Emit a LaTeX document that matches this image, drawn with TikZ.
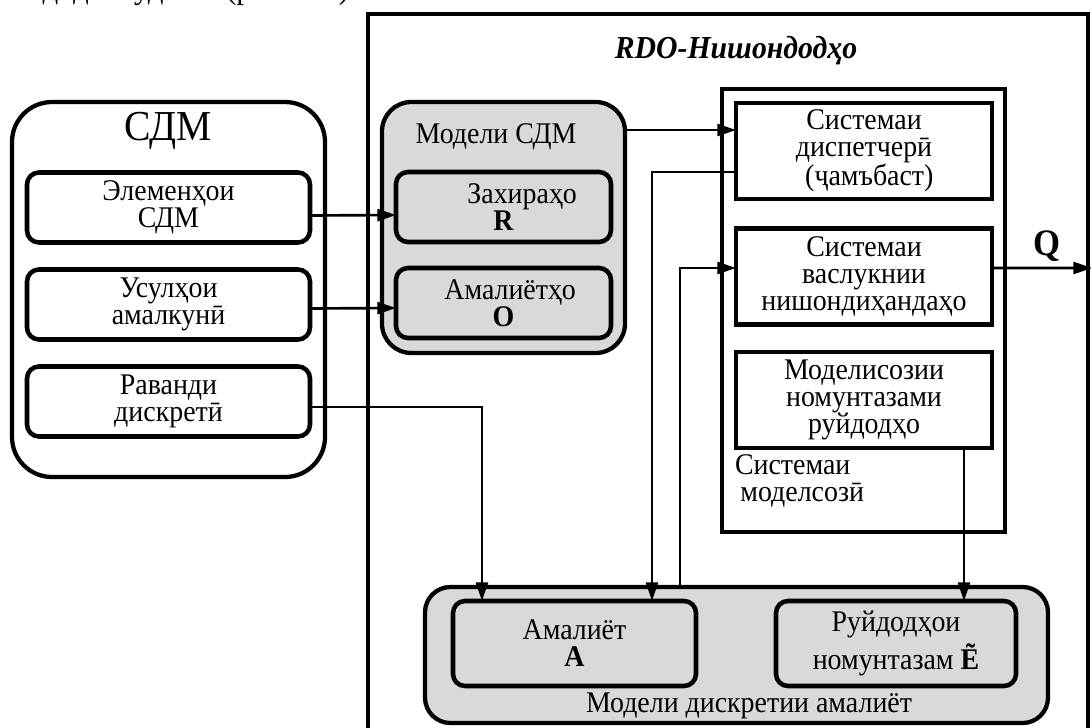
\documentclass[tikz,border=0pt]{standalone}
\usepackage{fontspec}
\setmainfont{Liberation Serif}[FakeStretch=0.93]
\usetikzlibrary{arrows.meta,calc}
\begin{document}
\begin{tikzpicture}[x=0.75pt,y=-0.75pt,
  every node/.style={inner sep=0pt, outer sep=0pt},
  txt/.style={font=\fontsize{22.5}{20.3}\selectfont, align=center},
  rbox/.style={draw, line width=3.4pt, rounded corners=9pt, txt},
  sbox/.style={draw, line width=3.4pt, txt},
  grp/.style={draw, line width=3.2pt, fill=black!15},
  arr/.style={line width=2pt, -{Triangle[length=14pt,width=9pt]}},
  conn/.style={line width=2pt}]
\useasboundingbox (0,0) rectangle (1092,728);

% clipped text line above the figure
\node[anchor=base east, font=\fontsize{25}{25}\selectfont] (toptext) at (357,-2) {т дода шудааст (расми 2).};

% outer RDO frame
\node[draw, line width=3pt, minimum width=540pt, minimum height=544.5pt] (rdo) at (728,377) {};
\node[font=\fontsize{24}{24}\selectfont\bfseries\itshape] (rdot) at (736,51) {RDO-Нишондодҳо};

% left group
\node[draw, line width=3.2pt, rounded corners=30pt, minimum width=234.75pt, minimum height=281.25pt] (sdm) at (168.5,289.5) {};
\node[font=\fontsize{32}{32}\selectfont] (sdmt) at (168,131) {СДМ};
\node[rbox, minimum width=212.25pt, minimum height=52.5pt] (el) at (168.5,207.5) {Элеменҳои\\СДМ};
\node[rbox, minimum width=212.25pt, minimum height=52.5pt] (us) at (168.5,304.5) {Усулҳои\\амалкунӣ};
\node[rbox, minimum width=212.25pt, minimum height=52.5pt] (rav) at (168.5,401.5) {Раванди\\дискретӣ};

% model SDM group
\node[grp, rounded corners=22pt, minimum width=182.25pt, minimum height=188.25pt] (msdm) at (503.5,227.5) {};
\node[txt] (msdmt) at (496,137) {Модели СДМ};
\node[rbox, minimum width=161.25pt, minimum height=52.5pt] (zax) at (503.5,207) {\hspace*{28pt}Захираҳо\\\textbf{R}};
\node[rbox, minimum width=161.25pt, minimum height=52.5pt] (amh) at (503.5,303) {\hspace*{10pt}Амалиётҳо\\\textbf{O}};

% modelling system
\node[draw, line width=3.2pt, minimum width=212.25pt, minimum height=332.25pt] (msys) at (863.5,310.5) {};
\node[sbox, minimum width=192pt, minimum height=72pt] (dsp) at (864,151) {Системаи\\диспетчерӣ\\\hspace*{8pt}(ҷамъбаст)};
\node[sbox, minimum width=192pt, minimum height=72pt] (vas) at (864,276.5) {Системаи\\васлукнии\\нишондиҳандаҳо};
\node[sbox, minimum width=192pt, minimum height=72pt] (mod) at (864,400) {Моделисозии\\номунтазами\\руйдодҳо};
\node[txt, align=left, anchor=north west] (msyst) at (735,455) {Системаи\\\hspace*{4pt}моделсозӣ};

% discrete model group
\node[grp, rounded corners=19pt, minimum width=467.25pt, minimum height=102pt] (dmod) at (736.5,655) {};
\node[rbox, minimum width=182.25pt, minimum height=63.75pt] (am) at (574.5,643.5) {Амалиёт\\\textbf{A}};
\node[rbox, minimum width=180pt, minimum height=63.75pt] (ev) at (896,643.5) {Руйдодҳои\\[3pt]номунтазам \textbf{Ẽ}};
\node[txt] (dmodt) at (749,706) {Модели дискретии амалиёт};

% output Q
\coordinate (qend) at (1092,268);
\node[font=\fontsize{28}{28}\selectfont\bfseries] (qt) at (1047,246) {Q};

% connectors
\coordinate (yA) at (0,130);
\draw[arr] ([yshift=-6pt]el.east) -- ([yshift=-6pt]zax.west);
\draw[arr] ([yshift=-3pt]us.east) -- ([yshift=-3.75pt]amh.west);
\draw[arr] ([yshift=-4pt]rav.east) -| ([xshift=-69.4pt]am.north);
\draw[arr] (msdm.east |- yA) -- (dsp.west |- yA);
\draw[arr] ([yshift=-15.75pt]dsp.west) -| ([xshift=58.1pt]am.north);
\draw[arr] ([xshift=-42.4pt]dmod.north) |- ([yshift=6.4pt]vas.west);
\draw[arr] ([xshift=75pt]mod.south) -- ([xshift=51pt]ev.north);
\draw[arr] ([yshift=6.4pt]vas.east) -- (qend);
\end{tikzpicture}
\end{document}
